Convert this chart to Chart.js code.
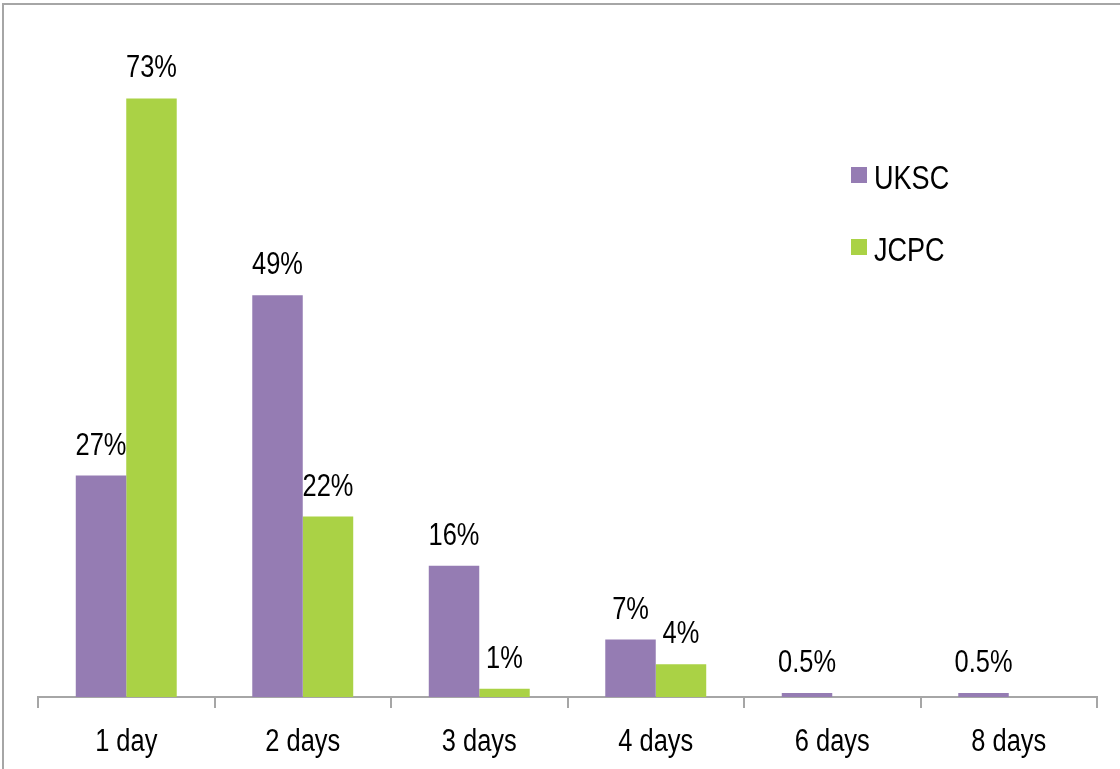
<!DOCTYPE html>
<html>
<head>
<meta charset="utf-8">
<script src="https://cdn.jsdelivr.net/npm/chart.js@4/dist/chart.umd.min.js"></script>
<style>
  html, body { margin: 0; padding: 0; background: #fff; }
  #grafico { display: block; }
</style>
</head>
<body>
<canvas id="grafico" width="1120" height="769"></canvas>
<script>
  // dados
  const categorias = ['1 day', '2 days', '3 days', '4 days', '6 days', '8 days']
  const valoresUKSC = [27, 49, 16, 7, 0.5, 0.5]
  const valoresJCPC = [73, 22, 1, 4, 0, 0]
  const rotulosUKSC = ['27%', '49%', '16%', '7%', '0.5%', '0.5%']
  const rotulosJCPC = ['73%', '22%', '1%', '4%', null, null]

  const corUKSC = '#957cb3'
  const corJCPC = '#aad245'
  const corEixo = '#a6a6a6'
  const fonte = "'Liberation Sans', Arial, sans-serif"
  const estreito = 0.82 // a fonte original e estreita (tipo Arial Narrow)

  // escreve texto comprimido na horizontal
  function textoEstreito(c, txt, x, y) {
    c.save()
    c.translate(x, y)
    c.scale(estreito, 1)
    c.fillText(txt, 0, 0)
    c.restore()
  }

  // moldura cinza (so topo e lado esquerdo aparecem no recorte)
  const moldura = {
    id: 'moldura',
    beforeDraw(chart) {
      const c = chart.ctx
      c.save()
      c.strokeStyle = corEixo
      c.lineWidth = 2
      c.beginPath()
      c.moveTo(3, chart.height)
      c.lineTo(3, 4)
      c.lineTo(chart.width, 4)
      c.stroke()
      c.restore()
    }
  }

  // rotulos de percentual acima das barras + nomes das categorias
  const rotulos = {
    id: 'rotulos',
    afterDatasetsDraw(chart) {
      const c = chart.ctx
      c.save()
      c.font = '31px ' + fonte
      c.fillStyle = '#000'
      c.textAlign = 'center'
      c.textBaseline = 'alphabetic'
      chart.data.datasets.forEach((ds, i) => {
        const meta = chart.getDatasetMeta(i)
        meta.data.forEach((bar, j) => {
          const txt = ds.rotulos[j]
          if (!txt) return
          textoEstreito(c, txt, bar.x, bar.y - 21)
        })
      })
      const eixoX = chart.scales.x
      chart.data.labels.forEach((lbl, i) => {
        textoEstreito(c, lbl, eixoX.getPixelForTick(i), 751)
      })
      c.restore()
    }
  }

  // legenda dentro da area do grafico
  const legenda = {
    id: 'legenda',
    afterDraw(chart) {
      const c = chart.ctx
      c.save()
      c.font = '33px ' + fonte
      c.textBaseline = 'alphabetic'
      c.textAlign = 'left'
      chart.data.datasets.forEach((ds, i) => {
        const y = 175 + i * 72
        c.fillStyle = ds.backgroundColor
        c.fillRect(851, y - 8, 16, 16)
        c.fillStyle = '#000'
        textoEstreito(c, ds.label, 874, y + 14)
      })
      c.restore()
    }
  }

  new Chart(document.getElementById('grafico'), {
    type: 'bar',
    data: {
      labels: categorias,
      datasets: [
        { label: 'UKSC', data: valoresUKSC, rotulos: rotulosUKSC, backgroundColor: corUKSC },
        { label: 'JCPC', data: valoresJCPC, rotulos: rotulosJCPC, backgroundColor: corJCPC }
      ]
    },
    options: {
      responsive: false,
      animation: false,
      devicePixelRatio: 1,
      layout: { padding: { left: 38, right: 23, top: 41, bottom: 0 } },
      datasets: { bar: { categoryPercentage: 0.572, barPercentage: 1 } },
      plugins: { legend: { display: false }, tooltip: { enabled: false } },
      scales: {
        y: { display: false, min: 0, max: 80 },
        x: {
          afterFit(scale) { scale.height = 72 },
          border: { display: true, color: corEixo, width: 2 },
          grid: { display: true, drawOnChartArea: false, color: corEixo, lineWidth: 2, tickLength: 11, offset: true },
          ticks: { display: false }
        }
      }
    },
    plugins: [moldura, rotulos, legenda]
  })
</script>
</body>
</html>
